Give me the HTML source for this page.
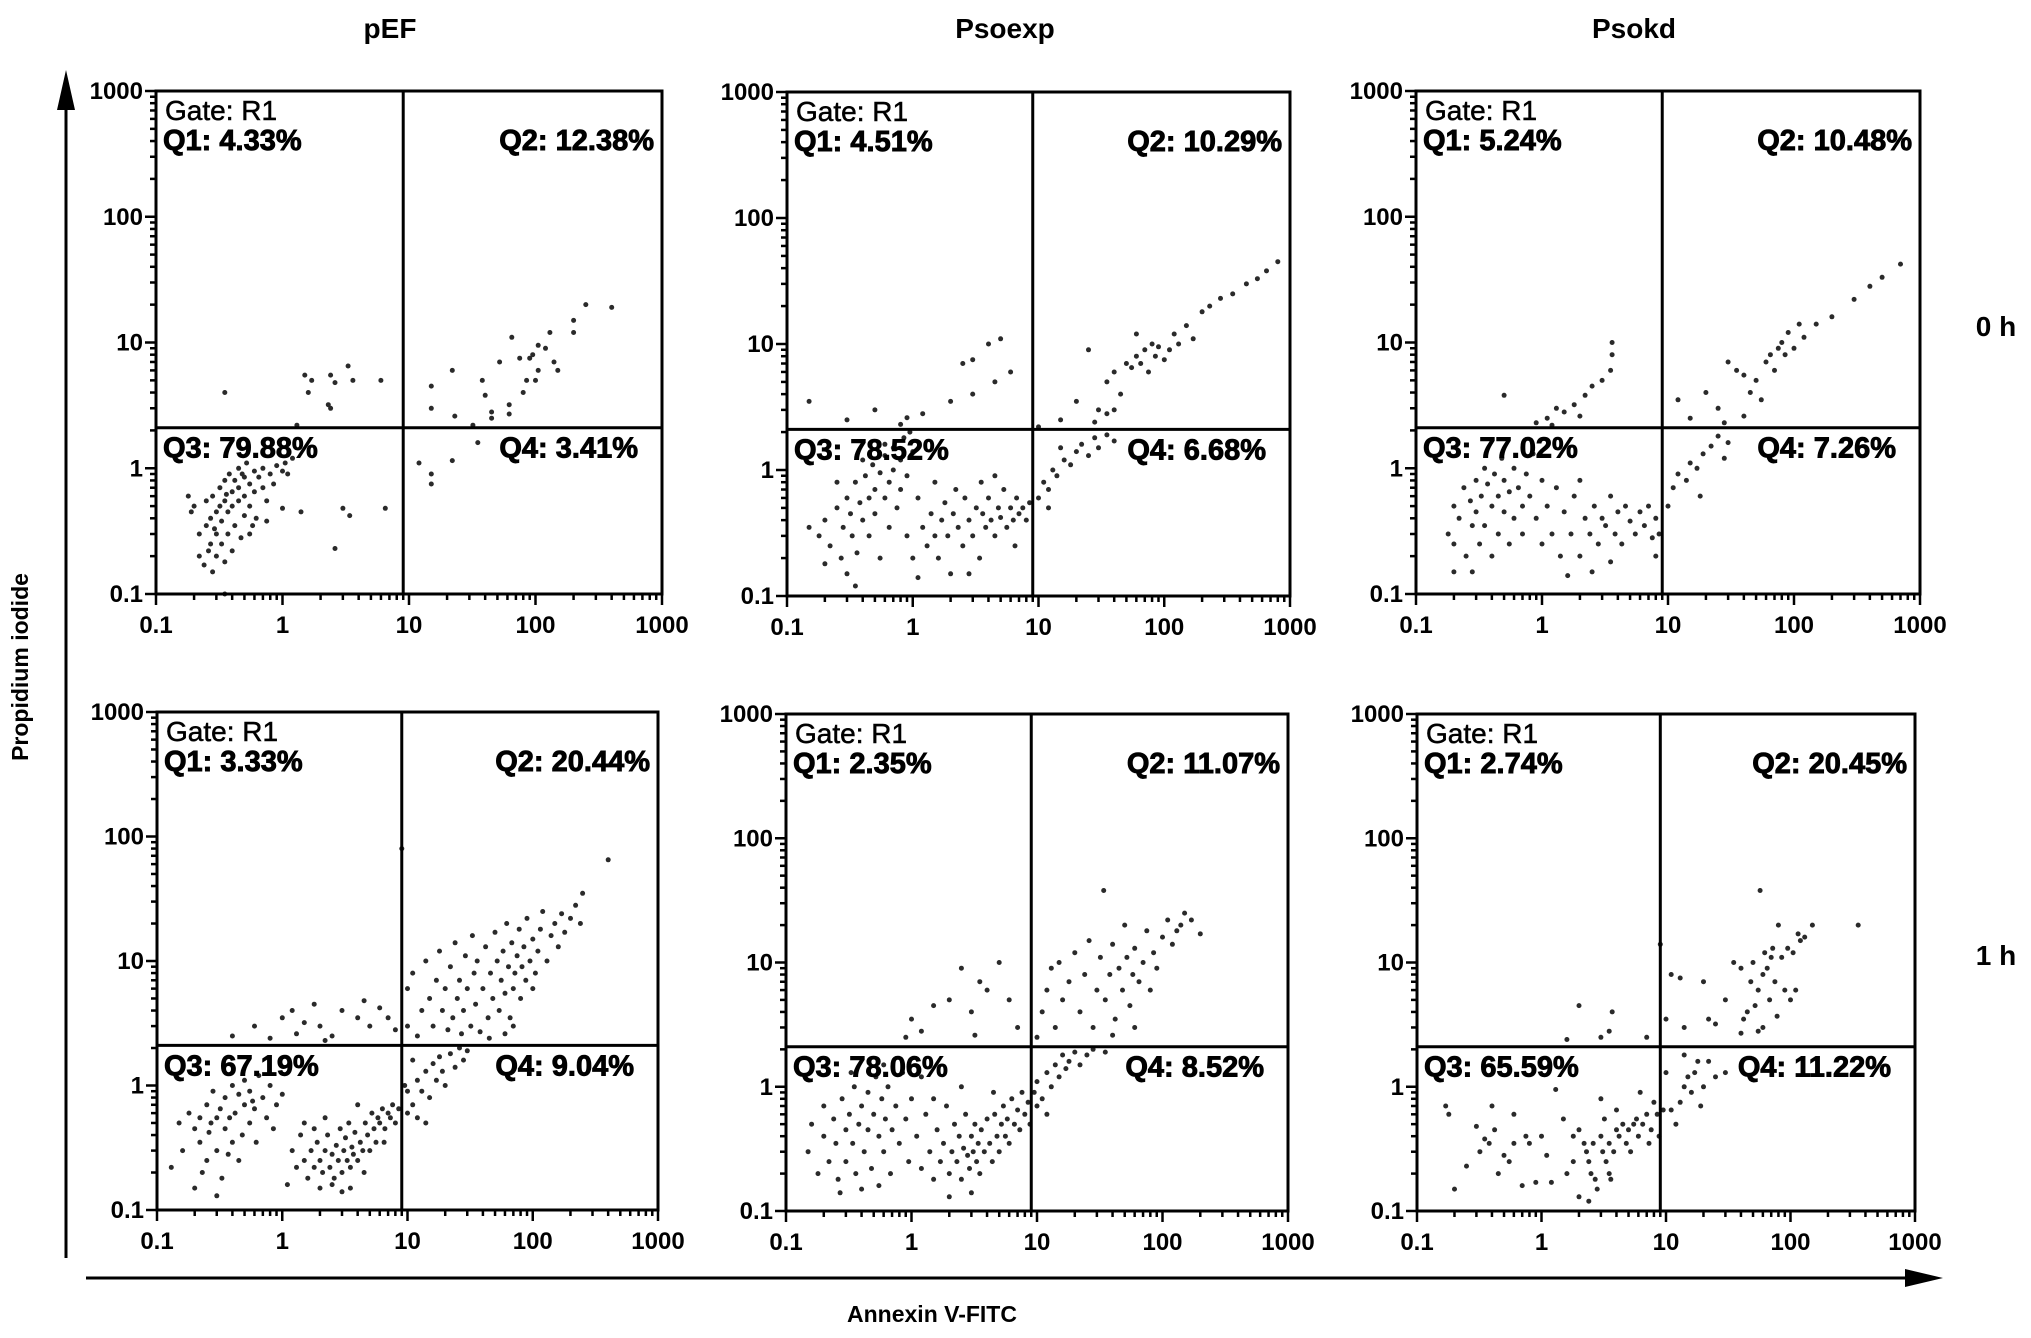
<!DOCTYPE html>
<html><head><meta charset="utf-8"><title>Annexin V / PI flow cytometry</title>
<style>
html,body{margin:0;padding:0;background:#fff;}
svg{display:block;font-family:"Liberation Sans",Arial,sans-serif;}
</style></head>
<body>
<svg id="fig" width="2031" height="1338" viewBox="0 0 2031 1338" xmlns="http://www.w3.org/2000/svg">
  <text x="390" y="38" font-size="28" font-weight="bold" text-anchor="middle">pEF</text>
  <text x="1005" y="38" font-size="28" font-weight="bold" text-anchor="middle">Psoexp</text>
  <text x="1634" y="38" font-size="28" font-weight="bold" text-anchor="middle">Psokd</text>
  <text x="1996" y="336" font-size="28" font-weight="bold" text-anchor="middle">0 h</text>
  <text x="1996" y="965" font-size="28" font-weight="bold" text-anchor="middle">1 h</text>
  <g>
    <line x1="66" y1="95" x2="66" y2="1258" stroke="#000" stroke-width="3"/>
    <polygon points="66,70 57,110 75,110" fill="#000"/>
  </g>
  <text transform="translate(28,667) rotate(-90)" font-size="23" font-weight="bold" text-anchor="middle">Propidium iodide</text>
  <g>
    <line x1="86" y1="1278" x2="1915" y2="1278" stroke="#000" stroke-width="3"/>
    <polygon points="1943,1278 1905,1269 1905,1287" fill="#000"/>
  </g>
  <text x="932" y="1322" font-size="23" font-weight="bold" text-anchor="middle">Annexin V-FITC</text>
  <g id="panels"></g>
</svg>
<script>
// Quadrant statistics
const q_pef0 = ["4.33%","12.38%","79.88%","3.41%"];
const q_pso0 = ["4.51%","10.29%","78.52%","6.68%"];
const q_kd0  = ["5.24%","10.48%","77.02%","7.26%"];
const q_pef1 = ["3.33%","20.44%","67.19%","9.04%"];
const q_pso1 = ["2.35%","11.07%","78.06%","8.52%"];
const q_kd1  = ["2.74%","20.45%","65.59%","11.22%"];
const tickValues = [0.1,1,10,100,1000];
const tickLabels = ["0.1","1","10","100","1000"];
const gateX = 9;
const gateY = 2.1;

// Event data [AnnexinV, PI]
const pts_pef0 = [[0.2,0.5],[0.22,0.3],[0.22,0.2],[0.24,0.17],[0.25,0.35],[0.25,0.55],[0.27,0.4],[0.27,0.25],[0.28,0.6],[0.28,0.15],[0.3,0.45],[0.3,0.3],[0.3,0.2],[0.32,0.7],[0.32,0.5],[0.33,0.38],[0.33,0.25],[0.35,0.8],[0.35,0.55],[0.35,0.18],[0.37,0.45],[0.37,0.3],[0.38,0.9],[0.4,0.65],[0.4,0.5],[0.4,0.22],[0.42,0.8],[0.42,0.35],[0.45,1.0],[0.45,0.7],[0.45,0.55],[0.47,0.28],[0.5,0.85],[0.5,0.6],[0.5,0.42],[0.52,1.1],[0.55,0.75],[0.55,0.5],[0.55,0.3],[0.6,0.95],[0.6,0.65],[0.62,0.4],[0.65,0.85],[0.7,1.0],[0.7,0.7],[0.75,0.55],[0.8,0.9],[0.85,0.75],[0.9,1.05],[1.0,0.95],[1.05,1.1],[1.1,0.9],[1.2,1.2],[0.18,0.6],[0.19,0.45],[0.26,0.22],[0.29,0.33],[0.36,0.62],[0.48,0.9],[0.58,0.35],[1.4,0.45],[1.0,0.48],[0.75,0.38],[3,0.48],[3.4,0.42],[6.5,0.48],[2.6,0.23],[0.35,0.1],
[0.35,4],[1.5,5.5],[1.7,5],[2.4,5.5],[2.6,4.8],[3.3,6.5],[3.6,5],[6,5],[1.6,4],[2.3,3.2],[2.4,3],[1.3,2.2],
[15,4.5],[15,3],[22,6],[23,2.6],[32,2.2],[38,5],[40,3.8],[45,2.8],[45,2.5],[52,7],[62,3.2],[62,2.7],[65,11],[75,7.5],[80,4],[85,5],[90,7.5],[95,8],[100,5],[105,6],[105,9.5],[120,9],[130,12],[140,7],[150,6],[200,12],[200,15],[250,20],[400,19],
[12,1.1],[15,0.9],[15,0.75],[22,1.15],[35,1.6]];

const pts_pso0 = [[0.15,0.35],[0.18,0.3],[0.2,0.4],[0.22,0.25],[0.25,0.5],[0.27,0.2],[0.28,0.35],[0.3,0.6],[0.3,0.15],[0.32,0.45],[0.33,0.3],[0.35,0.8],[0.36,0.22],[0.38,0.55],[0.4,0.4],[0.42,0.9],[0.45,0.6],[0.45,0.3],[0.48,1.1],[0.5,0.7],[0.5,0.45],[0.55,0.95],[0.55,0.2],[0.6,1.3],[0.6,0.6],[0.65,0.8],[0.65,0.35],[0.7,1.5],[0.7,1.0],[0.75,0.5],[0.8,1.2],[0.8,0.7],[0.85,1.8],[0.9,0.9],[0.9,0.3],[1.0,1.4],[1.0,0.2],[1.1,0.6],[0.25,0.8],[0.4,1.2],[0.6,1.6],[0.95,2.0],[0.2,0.18],[0.35,0.12],
[1.2,0.35],[1.3,0.25],[1.4,0.45],[1.5,0.3],[1.6,0.2],[1.7,0.4],[1.8,0.55],[1.9,0.3],[2.0,0.15],[2.1,0.45],[2.3,0.35],[2.5,0.25],[2.6,0.6],[2.8,0.4],[3.0,0.3],[3.2,0.5],[3.4,0.2],[3.6,0.45],[3.8,0.35],[4,0.6],[4.2,0.4],[4.5,0.3],[4.8,0.5],[5,0.42],[5.3,0.7],[5.6,0.35],[6,0.5],[6.3,0.4],[6.7,0.6],[7,0.45],[7.5,0.5],[8,0.4],[8.5,0.55],[1.5,0.8],[2.2,0.7],[3.5,0.8],[4.5,0.9],[2.8,0.15],[6.5,0.25],[1.1,0.14],
[10,0.6],[11,0.8],[12,0.7],[13,1.0],[14,0.9],[16,1.2],[18,1.1],[20,1.4],[22,1.6],[25,1.3],[28,1.8],[30,1.5],[35,1.9],[40,1.7],[12,0.5],[15,1.5],
[0.15,3.5],[0.3,2.5],[0.5,3],[0.8,2.3],[0.9,2.6],[2.5,7],[3,7.5],[4,10],[4.5,5],[5,11],[3,4],[6,6],[1.2,2.8],[2,3.5],
[10,2.2],[15,2.5],[20,3.5],[25,9],[30,3],[35,5],[40,6],[45,4],[50,7],[55,6.5],[60,8],[65,7],[70,9],[75,6],[80,10],[85,8],[90,9.5],[100,7.5],[110,9],[120,12],[130,10],[150,14],[170,11],[200,18],[230,20],[280,23],[350,25],[450,30],[550,33],[650,38],[800,45],[60,12],[40,3],[28,2.4],[35,2.8]];

const pts_kd0 = [[0.18,0.3],[0.2,0.5],[0.2,0.25],[0.22,0.4],[0.24,0.7],[0.25,0.2],[0.27,0.55],[0.28,0.35],[0.3,0.8],[0.3,0.45],[0.32,0.25],[0.33,0.6],[0.35,1.0],[0.35,0.35],[0.37,0.75],[0.4,0.5],[0.4,0.2],[0.42,0.9],[0.45,0.6],[0.45,0.3],[0.48,1.2],[0.5,0.8],[0.5,0.45],[0.55,0.65],[0.55,0.25],[0.6,1.0],[0.6,0.4],[0.65,0.7],[0.7,0.5],[0.7,0.3],[0.75,0.9],[0.8,0.6],[0.85,1.3],[0.9,0.4],[1.0,0.8],[1.0,0.25],[1.1,0.5],[0.2,0.15],[0.28,0.15],
[1.2,0.3],[1.4,0.2],[1.5,0.45],[1.7,0.3],[1.8,0.6],[2.0,0.2],[2.2,0.4],[2.4,0.3],[2.6,0.5],[2.8,0.25],[3,0.4],[3.2,0.35],[3.5,0.6],[3.8,0.3],[4,0.45],[4.3,0.25],[4.6,0.5],[5,0.38],[5.5,0.3],[6,0.45],[6.5,0.35],[7,0.5],[7.5,0.28],[8,0.4],[8.5,0.3],[8,0.2],[2.5,0.15],[1.6,0.14],[3.5,0.18],[1.3,0.7],[2,0.8],
[10,0.5],[11,0.7],[12,0.9],[14,0.8],[15,1.1],[17,1.0],[19,1.3],[22,1.5],[25,1.8],[28,1.2],[30,1.6],[18,0.6],
[0.5,3.8],[0.9,2.3],[1.1,2.5],[1.3,3],[1.5,2.8],[1.8,3.2],[2.2,3.8],[2.5,4.5],[3,5],[3.5,6],[3.6,8],[3.6,10],[1.2,2.2],[2,2.6],
[12,3.5],[15,2.5],[20,4],[25,3],[30,7],[35,6],[40,5.5],[45,4],[50,5],[55,3.5],[60,7],[65,8],[70,6],[75,9],[80,10],[85,8],[90,12],[100,9],[110,14],[120,11],[150,14],[200,16],[300,22],[400,28],[500,33],[700,42],[28,2.3],[40,2.6]];

const pts_pef1 = [[0.13,0.22],[0.15,0.5],[0.16,0.3],[0.18,0.6],[0.2,0.45],[0.2,0.15],[0.22,0.55],[0.22,0.35],[0.25,0.7],[0.25,0.25],[0.27,0.5],[0.28,0.9],[0.3,0.55],[0.3,0.3],[0.32,0.65],[0.33,0.18],[0.35,0.45],[0.35,0.8],[0.38,0.55],[0.4,1.0],[0.4,0.35],[0.42,0.6],[0.45,0.85],[0.45,0.25],[0.5,0.7],[0.5,1.1],[0.55,0.5],[0.55,0.9],[0.6,0.65],[0.65,1.2],[0.7,0.8],[0.75,0.55],[0.8,1.0],[0.9,0.7],[1.0,0.85],[0.23,0.2],[0.3,0.13],[0.48,0.4],[0.62,0.35],[0.85,0.45],[0.26,0.42],[0.37,0.28],[0.58,0.75],
[1.2,0.3],[1.3,0.22],[1.4,0.4],[1.5,0.25],[1.6,0.18],[1.7,0.3],[1.8,0.22],[1.9,0.35],[2.0,0.25],[2.1,0.2],[2.2,0.3],[2.3,0.4],[2.4,0.22],[2.5,0.28],[2.6,0.18],[2.7,0.33],[2.8,0.25],[2.9,0.45],[3.0,0.2],[3.1,0.3],[3.2,0.38],[3.3,0.25],[3.4,0.5],[3.5,0.22],[3.6,0.32],[3.7,0.28],[3.8,0.42],[4.0,0.25],[4.2,0.35],[4.4,0.3],[4.6,0.5],[4.8,0.4],[5.0,0.3],[5.2,0.6],[5.4,0.45],[5.6,0.35],[5.8,0.55],[6.0,0.5],[6.3,0.65],[6.6,0.45],[7.0,0.6],[7.3,0.55],[7.6,0.7],[8.0,0.5],[8.5,0.65],[2.0,0.15],[2.5,0.16],[3.0,0.14],[1.5,0.5],[2.2,0.55],[4,0.7],[3.5,0.15],[1.1,0.16],[6.5,0.35],[4.5,0.2],[1.8,0.45],
[0.4,2.5],[0.6,3],[0.8,2.4],[1.0,3.5],[1.2,4],[1.5,3.2],[1.8,4.5],[2.0,3],[2.5,2.5],[3,4],[4,3.5],[4.5,4.8],[5,3],[6,4.2],[7,3.5],[8,2.8],[2.2,2.3],[1.3,2.6],[9,80],
[10,0.6],[10,0.9],[11,0.7],[12,1.1],[12,0.55],[13,0.9],[14,1.3],[15,0.8],[16,1.5],[17,1.1],[18,1.7],[19,1.3],[20,1.0],[22,1.8],[24,1.4],[26,2.0],[28,1.6],[30,1.9],[14,0.5],[11,1.6],[9.5,1.0],
[10,3],[10,6],[11,8],[12,2.5],[13,4],[14,10],[15,5],[16,3],[17,7],[18,12],[19,4],[20,6],[21,2.8],[22,9],[23,3.5],[24,14],[25,5],[26,7],[27,2.6],[28,4],[29,11],[30,6],[32,3],[33,16],[34,8],[35,4.5],[36,10],[38,2.7],[40,6],[42,13],[44,3.5],[46,8],[48,5],[50,17],[52,10],[54,4],[56,7],[58,12],[60,5.5],[62,20],[64,9],[66,3.5],[68,14],[70,6],[72,8],[75,11],[78,18],[80,5],[82,9],[85,13],[88,7],[90,22],[95,10],[100,15],[105,8],[110,12],[115,18],[120,25],[130,10],[140,16],[150,20],[160,13],[170,24],[180,17],[200,22],[220,28],[240,20],[250,35],[400,65],[60,2.6],[45,2.4],[100,6],[70,3]];

const pts_pso1 = [[0.15,0.3],[0.16,0.5],[0.18,0.2],[0.2,0.4],[0.2,0.7],[0.22,0.25],[0.24,0.55],[0.25,0.35],[0.26,0.18],[0.28,0.8],[0.3,0.45],[0.3,0.25],[0.32,0.6],[0.34,0.35],[0.35,1.0],[0.36,0.2],[0.38,0.5],[0.4,0.7],[0.42,0.3],[0.45,0.9],[0.45,0.45],[0.48,0.22],[0.5,0.6],[0.52,1.2],[0.55,0.4],[0.58,0.8],[0.6,0.3],[0.62,0.55],[0.65,1.0],[0.68,0.2],[0.7,0.45],[0.75,0.7],[0.8,0.35],[0.85,1.3],[0.9,0.55],[0.95,0.25],[1.0,0.8],[0.27,0.14],[0.4,0.15],[0.55,0.16],[0.33,1.3],[0.6,1.5],
[1.1,0.4],[1.2,0.22],[1.3,0.6],[1.4,0.3],[1.5,0.18],[1.6,0.45],[1.7,0.25],[1.8,0.35],[1.9,0.7],[2.0,0.2],[2.1,0.3],[2.2,0.5],[2.3,0.25],[2.4,0.4],[2.5,0.18],[2.6,0.32],[2.7,0.6],[2.8,0.28],[2.9,0.22],[3.0,0.4],[3.1,0.3],[3.2,0.5],[3.3,0.25],[3.4,0.35],[3.5,0.2],[3.6,0.45],[3.8,0.3],[4.0,0.55],[4.2,0.35],[4.4,0.25],[4.6,0.6],[4.8,0.4],[5.0,0.3],[5.2,0.5],[5.4,0.7],[5.6,0.4],[5.8,0.55],[6.0,0.35],[6.3,0.8],[6.6,0.5],[7.0,0.65],[7.3,0.45],[7.6,0.9],[8.0,0.6],[8.5,0.75],[8.8,0.5],[3.0,0.14],[2.0,0.13],[1.5,0.8],[2.5,1.0],[4.5,0.9],[1.2,1.2],
[9.5,0.9],[10,1.1],[11,0.8],[12,1.3],[13,1.0],[14,1.5],[15,1.2],[16,1.8],[17,1.4],[18,1.6],[20,1.9],[22,1.5],[25,1.8],[28,2.0],[12,0.6],[10,0.7],[35,1.9],
[0.9,2.5],[1.0,3.5],[1.5,4.5],[2.0,5],[2.5,9],[3.0,4],[3.5,7],[4.0,6],[5.0,10],[6.0,5],[7.0,3],[3.2,2.6],[1.2,2.8],
[10,2.5],[11,4],[12,6],[13,9],[14,3],[15,10],[16,5],[18,7],[20,12],[22,4],[24,8],[26,15],[28,3],[30,6],[32,11],[34,38],[35,5],[38,8],[40,14],[42,3.5],[45,9],[48,6],[50,20],[52,11],[55,4.5],[58,8],[60,13],[65,7],[70,10],[75,18],[80,6],[85,12],[90,9],[100,16],[110,22],[120,14],[130,18],[140,20],[150,25],[170,22],[200,17],[40,2.6],[60,3]];

const pts_kd1 = [[0.17,0.7],[0.18,0.6],[0.2,0.15],[0.25,0.23],[0.3,0.48],[0.32,0.3],[0.35,0.38],[0.38,0.35],[0.4,0.7],[0.42,0.45],[0.45,0.2],[0.5,0.28],[0.55,0.25],[0.6,0.6],[0.6,0.35],[0.7,0.16],[0.75,0.4],[0.8,0.35],[0.9,0.17],[1.0,0.4],[1.1,0.28],[1.2,0.17],[1.3,0.95],[1.5,0.55],[1.6,0.2],[1.8,0.25],[1.8,0.4],[2.0,0.45],[2.0,0.13],[2.2,0.35],[2.3,0.3],[2.4,0.25],[2.5,0.2],[2.6,0.35],[2.7,0.18],[2.8,0.15],[3.0,0.4],[3.1,0.3],[3.2,0.55],[3.3,0.25],[3.5,0.35],[3.5,0.2],[3.6,0.18],[3.8,0.3],[4.0,0.45],[4.0,0.65],[4.2,0.4],[4.5,0.5],[4.8,0.35],[5.0,0.45],[5.2,0.3],[5.5,0.5],[5.8,0.55],[6.0,0.4],[6.2,0.9],[6.5,0.5],[7.0,0.6],[7.3,0.35],[7.6,0.45],[8.0,0.75],[8.5,0.6],[8.8,0.4],[3.0,0.8],[2.4,0.12],
[9.5,0.65],[10,1.3],[11,0.65],[12,0.5],[13,0.75],[14,1.0],[15,1.2],[16,0.9],[17,1.3],[18,1.6],[19,0.7],[20,1.0],[22,1.6],[25,1.2],[30,1.3],[14,1.8],
[1.6,2.4],[2.0,4.5],[3.0,2.5],[3.5,2.8],[3.7,4],[7,2.5],[9,14],
[10,3.5],[11,8],[13,7.5],[14,3],[20,7],[22,3.5],[25,3.2],[30,5],[35,10],[40,2.7],[42,3.5],[45,4],[48,7],[50,10],[52,4.5],[55,6],[57,38],[60,8],[62,12],[65,9],[68,5],[70,11],[72,13],[75,7],[78,3.7],[80,20],[85,11],[90,6],[95,13],[100,5],[105,12],[110,6],[115,17],[120,15],[130,16],[150,20],[350,20],[60,3],[40,9],[55,2.8]];

const NS = "http://www.w3.org/2000/svg";
function mk(tag, attrs, parent){
  const e = document.createElementNS(NS, tag);
  for (const k in attrs) e.setAttribute(k, attrs[k]);
  parent.appendChild(e);
  return e;
}
const panelsG = document.getElementById('panels');

function drawPanel(id, L, T, R, B, pts, q){
  const g = mk('g', {}, panelsG);
  
  
  const W = R - L, H = B - T;
  const xs = v => L + (Math.log10(v) + 1) / 4 * W;
  const ys = v => B - (Math.log10(v) + 1) / 4 * H;
  const pg = mk('g', {fill:'#2a2a2a'}, g);
  
  
  pts.forEach(p => {
    const c = mk('circle', {cx: xs(p[0]).toFixed(1), cy: ys(p[1]).toFixed(1), r: 2.5}, pg);
    
    
  });
  const fr = mk('rect', {x:L, y:T, width:W, height:H, fill:'none', stroke:'#000', 'stroke-width':3}, g);
  
  
  const gv = mk('line', {x1:xs(gateX), x2:xs(gateX), y1:T, y2:B, stroke:'#000', 'stroke-width':3}, g);
  
  
  const gh = mk('line', {x1:L, x2:R, y1:ys(gateY), y2:ys(gateY), stroke:'#000', 'stroke-width':3}, g);
  
  
  const tg = mk('g', {stroke:'#000', 'stroke-width':2.5}, g);
  
  
  for (let d = 0; d < 4; d++){
    const base = tickValues[d];
    for (let m = 2; m <= 9; m++){
      const v = base * m;
      mk('line', {x1:xs(v), x2:xs(v), y1:B, y2:B+6}, tg);
      mk('line', {x1:L-6, x2:L, y1:ys(v), y2:ys(v)}, tg);
    }
  }
  tickValues.forEach((v, i) => {
    mk('line', {x1:xs(v), x2:xs(v), y1:B, y2:B+11}, tg);
    mk('line', {x1:L-11, x2:L, y1:ys(v), y2:ys(v)}, tg);
    const tx = mk('text', {x:xs(v), y:B+39, 'font-size':24, 'font-weight':'bold', 'text-anchor':'middle'}, g);
    tx.textContent = tickLabels[i];
    
    
    const ty = mk('text', {x:L-13, y:ys(v)+8, 'font-size':24, 'font-weight':'bold', 'text-anchor':'end'}, g);
    ty.textContent = tickLabels[i];
    
    
  });
  const gyp = ys(gateY);
  const lab = (txt, x, y, anchor, bold, name) => {
    const t = mk('text', {x:x, y:y, 'font-size': bold ? 29 : 28, 'font-weight': bold ? 'bold' : 'normal', 'text-anchor':anchor, stroke:'#000', 'stroke-width': bold ? 0.9 : 0.5}, g);
    t.textContent = txt;
    
    
  };
  lab('Gate: R1', L+9, T+29, 'start', false, 'gate-label');
  lab('Q1: ' + q[0], L+7, T+59, 'start', true, 'q1-label');
  lab('Q2: ' + q[1], R-8, T+59, 'end', true, 'q2-label');
  lab('Q3: ' + q[2], L+7, gyp+30, 'start', true, 'q3-label');
  lab('Q4: ' + q[3], R-24, gyp+30, 'end', true, 'q4-label');
}

drawPanel('pef-0h', 156, 91, 662, 594, pts_pef0, q_pef0);
drawPanel('psoexp-0h', 787, 92, 1290, 596, pts_pso0, q_pso0);
drawPanel('psokd-0h', 1416, 91, 1920, 594, pts_kd0, q_kd0);
drawPanel('pef-1h', 157, 712, 658, 1210, pts_pef1, q_pef1);
drawPanel('psoexp-1h', 786, 714, 1288, 1211, pts_pso1, q_pso1);
drawPanel('psokd-1h', 1417, 714, 1915, 1211, pts_kd1, q_kd1);
</script>
</body></html>
